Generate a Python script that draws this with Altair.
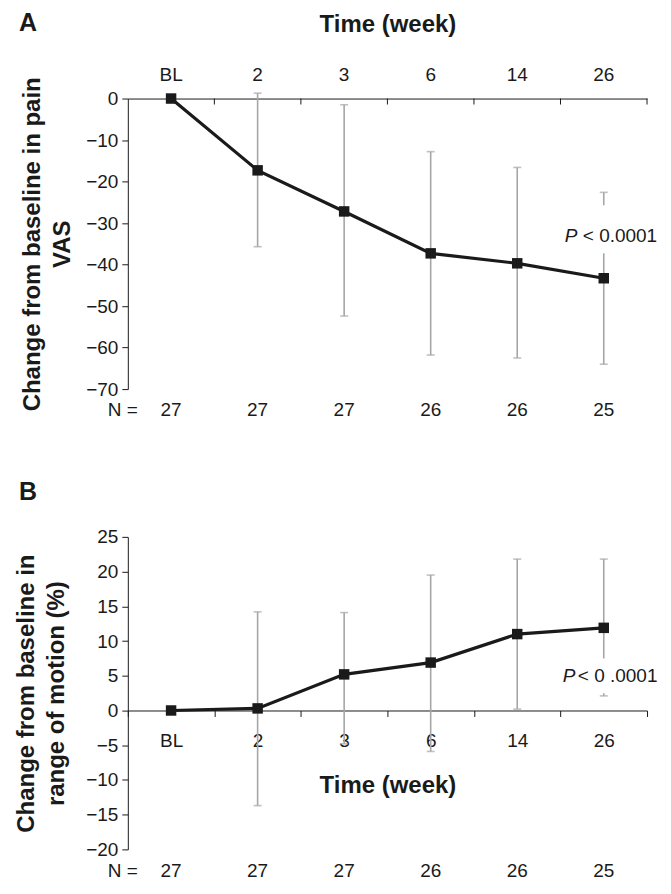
import altair as alt
import pandas as pd

cats = ["BL", "2", "3", "6", "14", "26"]
n_vals = [27, 27, 27, 26, 26, 25]

pain_mean = [0, -17.3, -27.2, -37.3, -39.7, -43.3]
pain_lo = [None, -35.7, -52.4, -61.8, -62.5, -64.0]
pain_hi = [None, 1.3, -1.5, -12.8, -16.6, -22.6]

rom_mean = [0, 0.3, 5.2, 6.9, 11.0, 11.9]
rom_lo = [None, -13.7, -4.8, -5.9, 0.2, 2.1]
rom_hi = [None, 14.2, 14.1, 19.5, 21.8, 21.8]

pain_ticks = list(range(-70, 1, 10))
rom_ticks = list(range(-20, 26, 5))

FONT = "Liberation Sans"
INK = "#1a1a1a"
BAR = "#a6a6a6"
W = 520


def panel(mean, lo, hi, ydom, yticks, ytitle, h, letter, letter_y, ptext, pdx, pdy_val,
          gap, xaxis, n_y, title_pad, rdx):
    df = pd.DataFrame({"cat": cats, "mean": mean, "lo": lo, "hi": hi, "N": n_vals})
    dfe = df.dropna()
    yscale = alt.Scale(domain=ydom, nice=False, zero=False)
    yaxis = alt.Axis(values=yticks, tickSize=6, labelPadding=4, grid=False,
                     labelOverlap=False, labelFlush=False,
                     title=ytitle, titleFontSize=24, titleFontWeight="bold",
                     titleFont=FONT, titlePadding=title_pad, titleLineHeight=30,
                     titleColor=INK, domainColor=INK, tickColor=INK)

    def Y(f):
        return alt.Y(f, scale=yscale, axis=yaxis)

    xscale = alt.Scale(paddingInner=0, paddingOuter=0)

    def X(**kw):
        return alt.X("cat:N", sort=cats, scale=xscale, axis=xaxis, **kw)

    base = alt.Chart(df)
    bars = alt.Chart(dfe).mark_rule(color=BAR, strokeWidth=1.6).encode(
        x=X(), y=Y("lo:Q"), y2="hi:Q")
    caps_lo = alt.Chart(dfe).mark_tick(color=BAR, thickness=1.6, size=8).encode(
        x=X(), y=Y("lo:Q"))
    caps_hi = alt.Chart(dfe).mark_tick(color=BAR, thickness=1.6, size=8).encode(
        x=X(), y=Y("hi:Q"))
    gdf = pd.DataFrame({"cat": ["26"], "a": [gap[0]], "b": [gap[1]]})
    gaprect = alt.Chart(gdf).mark_rect(color="white").encode(
        x=X(), y=Y("a:Q"), y2="b:Q")
    line = base.mark_line(color=INK, strokeWidth=3.2).encode(x=X(), y=Y("mean:Q"))
    pts = base.mark_square(color=INK, size=110, opacity=1).encode(
        x=X(), y=Y("mean:Q"))
    pdf = pd.DataFrame({"cat": ["26"], "y": [pdy_val]})
    p1 = alt.Chart(pdf).mark_text(text="P", font=FONT, fontSize=19, fontStyle="italic",
                                  align="left", baseline="middle", color=INK, dx=pdx).encode(
        x=X(), y=Y("y:Q"))
    p2 = alt.Chart(pdf).mark_text(text=ptext, font=FONT, fontSize=19, align="left",
                                  baseline="middle", color=INK, dx=rdx).encode(
        x=X(), y=Y("y:Q"))
    ntext = base.mark_text(font=FONT, fontSize=19, baseline="middle", color=INK).encode(
        x=X(), y=alt.value(n_y), text="N:Q")
    one = pd.DataFrame({"t": [letter]})
    nlab = alt.Chart(one).mark_text(text="N =", font=FONT, fontSize=19, align="right",
                                    baseline="middle", color=INK).encode(
        x=alt.value(10), y=alt.value(n_y))
    let = alt.Chart(one).mark_text(font=FONT, fontSize=25, fontWeight="bold", align="center",
                                   baseline="middle", color=INK).encode(
        x=alt.value(-100), y=alt.value(letter_y), text="t:N")
    layers = [bars, caps_lo, caps_hi, gaprect, line, pts, p1, p2, ntext, nlab, let]
    return layers, X


axisA = alt.Axis(orient="top", title="Time (week)", tickSize=0, labelPadding=14,
                 titlePadding=29, labelAngle=0, domainColor=INK, titleFontSize=24,
                 titleFontWeight="bold", titleFont=FONT, titleColor=INK)
layersA, XA = panel(pain_mean, pain_lo, pain_hi, [-70, 0], pain_ticks,
                    ["Change from baseline in pain", "VAS"], 291, "A", -76,
                    "< 0.0001", -39, -33, (-25.7, -37.3), axisA, 312, 11, -21)
tickdf = pd.DataFrame({"cat": cats})
ticksA = alt.Chart(tickdf).mark_rule(color=INK, strokeWidth=1).encode(
    x=XA(bandPosition=1), y=alt.value(0), y2=alt.value(6))
chartA = alt.layer(*layersA, ticksA).properties(width=W, height=291)

hB = 313
offB = -(hB - hB * 25 / 45)
axisB = alt.Axis(orient="bottom", title="Time (week)", tickSize=6, tickBand="extent",
                 labelPadding=15, titlePadding=23, labelAngle=0, offset=offB,
                 domainColor=INK, tickColor=INK, titleFontSize=24, titleFontWeight="bold",
                 titleFont=FONT, titleColor=INK)
layersB, XB = panel(rom_mean, rom_lo, rom_hi, [-20, 25], rom_ticks,
                    ["Change from baseline in", "range of motion (%)"], hB, "B", -45,
                    "< 0 .0001", -41, 4.9, (7.5, 2.5), axisB, 335, 17, -26)
chartB = alt.layer(*layersB).properties(width=W, height=hB)

chart = alt.vconcat(chartA, chartB, spacing=60).properties(
    padding={"left": 6, "top": 2, "right": 5, "bottom": 5}
).configure_view(stroke=None).configure_axis(
    labelFont=FONT, labelFontSize=19, labelColor=INK, grid=False
)

chart.save("out.html", embed_options={"renderer": "svg", "actions": False})
